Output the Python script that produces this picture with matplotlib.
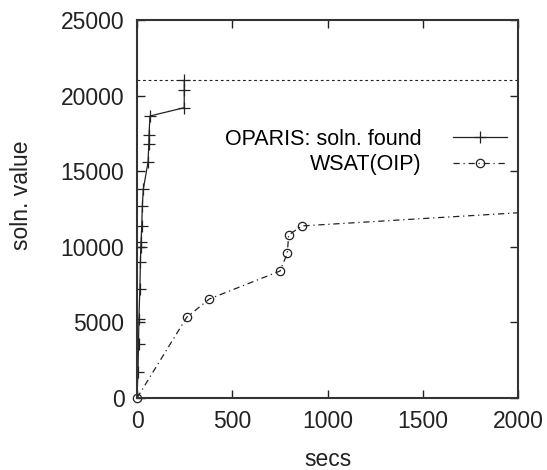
import numpy as np
import matplotlib
matplotlib.use("Agg")
import matplotlib.pyplot as plt

plt.rcParams['font.family'] = ['Liberation Sans', 'DejaVu Sans']

# OPARIS: soln. found
oparis_secs = [0, 5, 8, 10, 15, 18, 20, 21, 25, 28, 33, 58, 62, 63, 68, 248, 248, 248]
oparis_val = [0, 1700, 3600, 5200, 7200, 9000, 10000, 10300, 11400, 12700,
              13800, 15600, 16800, 17400, 18650, 19200, 20400, 21000]

# WSAT(OIP)
wsat_secs = [0, 261, 380, 751, 789, 796, 865, 2000]
wsat_val = [0, 5340, 6550, 8400, 9570, 10780, 11380, 12250]

optimum = 21000
xticks = [0, 500, 1000, 1500, 2000]
yticks = [0, 5000, 10000, 15000, 20000, 25000]

fs = 16.5

fig = plt.figure(figsize=(5.47, 4.70), dpi=100)
ax = fig.add_axes([137/547, 1 - 398/470, 381/547, 378/470])

ax.plot([0, 2000], [optimum, optimum], color='#222222', lw=0.8, ls=(0, (2.5, 2.5)))
ax.plot(oparis_secs, oparis_val, color='#222222', lw=0.9, marker='+', ms=8,
        mew=0.9, label='OPARIS: soln. found')
ax.plot(wsat_secs, wsat_val, color='#222222', lw=0.9, ls=(0, (5, 3, 1, 3)),
        marker='o', ms=6, mfc='none', mew=0.9, markevery=list(range(len(wsat_secs) - 1)),
        label='WSAT(OIP)', clip_on=False)

ax.set_xlim(0, 2000)
ax.set_ylim(0, 25000)
ax.set_xticks(xticks)
ax.set_yticks(yticks)
ax.tick_params(direction='in', length=6, width=1, top=True, right=True,
               labelsize=fs, colors='#222222', pad=9)
for s in ax.spines.values():
    s.set_linewidth(1.5)
    s.set_color('#333333')

ax.set_xlabel('secs', fontsize=fs, color='#222222')
ax.set_ylabel('soln. value', fontsize=fs, color='#222222')
ax.xaxis.set_label_coords(0.5, -0.131)
ax.yaxis.set_label_coords(-0.273, 0.537)

ax.legend(loc='upper right', bbox_to_anchor=(0.971, 0.712), frameon=False,
          markerfirst=False, fontsize=15.5, handlelength=2.5, handletextpad=1.45,
          borderpad=0, borderaxespad=0, labelspacing=0.2)

fig.savefig('out.png', dpi=100)
